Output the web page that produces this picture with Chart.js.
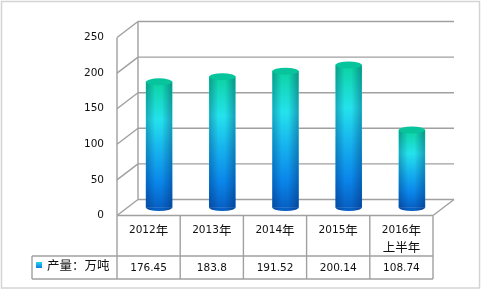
<!DOCTYPE html>
<html lang="zh">
<head>
<meta charset="UTF-8">
<title>产量</title>
<script src="https://cdn.jsdelivr.net/npm/chart.js"></script>
<style>
  html, body { margin: 0; padding: 0; background: #fff; }
</style>
</head>
<body>
<canvas id="c" width="482" height="290"></canvas>
<script>
// data
const categories = ['2012年', '2013年', '2014年', '2015年', '2016年上半年'];
const headerLines = [['2012年'], ['2013年'], ['2014年'], ['2015年'], ['2016年', '上半年']];
const output = [176.45, 183.8, 191.52, 200.14, 108.74];
const valueLabels = ['176.45', '183.8', '191.52', '200.14', '108.74'];
const seriesName = '产量：万吨';
const yMin = 0, yMax = 250, yStep = 50;

// 3d depth of the plot box
const DX = 21, DY = 16;
const FONT = "'DejaVu Sans', 'Noto Sans CJK SC', sans-serif";
const CJK_FONT = "12.5px 'Noto Sans CJK SC', sans-serif";
const LINE = '#a0a0a0';

function line(ctx, x1, y1, x2, y2) {
  ctx.beginPath();
  ctx.moveTo(x1, y1);
  ctx.lineTo(x2, y2);
  ctx.stroke();
}

// latin digits small, chinese a bit bigger, like the original
function mixedText(ctx, text, cx, cy) {
  const runs = text.match(/[\u3000-\u9fff\uff00-\uffef]+|[^\u3000-\u9fff\uff00-\uffef]+/g);
  const fonts = runs.map(r => /[\u3000-\u9fff\uff00-\uffef]/.test(r) ? CJK_FONT : '10.5px ' + FONT);
  let total = 0;
  const widths = runs.map((r, i) => { ctx.font = fonts[i]; const w = ctx.measureText(r).width; total += w; return w; });
  let px = cx - total / 2;
  ctx.textAlign = 'left';
  runs.forEach((r, i) => { ctx.font = fonts[i]; ctx.fillText(r, px, cy); px += widths[i]; });
}

function barFill(context) {
  const chart = context.chart;
  const { ctx, chartArea, scales } = chart;
  if (!chartArea) return '#1090e0';
  const top = scales.y.getPixelForValue(context.raw);
  const base = scales.y.getPixelForValue(0);
  const g = ctx.createLinearGradient(0, top, 0, base);
  g.addColorStop(0, '#0cd3a2');
  g.addColorStop(0.3, '#24e2ec');
  g.addColorStop(0.55, '#16b2ee');
  g.addColorStop(0.8, '#0a86ea');
  g.addColorStop(1, '#0760c4');
  return g;
}

const box3d = {
  id: 'box3d',
  beforeDatasetsDraw(chart) {
    const { ctx, chartArea: a, scales: { y } } = chart;
    ctx.save();
    ctx.strokeStyle = LINE;
    ctx.lineWidth = 1.4;
    y.ticks.forEach(t => {
      const py = y.getPixelForValue(t.value);
      line(ctx, a.left, py, a.left + DX, py - DY);
      line(ctx, a.left + DX, py - DY, a.right + DX, py - DY);
    });
    line(ctx, a.left, a.top, a.left, a.bottom);
    line(ctx, a.left + DX, a.top - DY, a.left + DX, a.bottom - DY);
    line(ctx, a.right, a.bottom, a.right + DX, a.bottom - DY);
    ctx.restore();
    // bars stand in the middle of the box depth
    ctx.save();
    ctx.translate(DX / 2, -DY / 2);
  },
  afterDatasetsDraw(chart) {
    const { ctx } = chart;
    const meta = chart.getDatasetMeta(0);
    meta.data.forEach(bar => {
      const w = bar.width, l = bar.x - w / 2, r = bar.x + w / 2;
      const ry = 3.5;
      // bottom rounding
      ctx.beginPath();
      ctx.ellipse(bar.x, bar.base, w / 2, ry, 0, 0, Math.PI);
      ctx.fillStyle = '#0760c4';
      ctx.fill();
      // side shading
      const h = ctx.createLinearGradient(l, 0, r, 0);
      h.addColorStop(0, 'rgba(0,20,70,0.28)');
      h.addColorStop(0.35, 'rgba(0,20,70,0)');
      h.addColorStop(0.6, 'rgba(0,20,70,0)');
      h.addColorStop(1, 'rgba(0,20,70,0.32)');
      ctx.fillStyle = h;
      ctx.fillRect(l, bar.y, w, bar.base - bar.y);
      ctx.beginPath();
      ctx.ellipse(bar.x, bar.base, w / 2, ry, 0, 0, Math.PI);
      ctx.fill();
      // top cap
      ctx.beginPath();
      ctx.ellipse(bar.x, bar.y, w / 2, ry, 0, 0, Math.PI * 2);
      ctx.fillStyle = '#08c49c';
      ctx.fill();
    });
    ctx.restore();
  },
  afterDraw(chart) {
    const { ctx, chartArea: a, scales: { x } } = chart;
    const step = x.getPixelForValue(1) - x.getPixelForValue(0);
    const rowTop = a.bottom, rowMid = 256, rowBot = 279, legLeft = 32;
    ctx.save();
    ctx.strokeStyle = LINE;
    ctx.lineWidth = 1.4;
    line(ctx, a.left, rowTop, a.right, rowTop);
    line(ctx, legLeft, rowMid, a.right, rowMid);
    line(ctx, legLeft, rowBot, a.right, rowBot);
    line(ctx, legLeft, rowMid, legLeft, rowBot);
    for (let i = 0; i <= categories.length; i++) {
      const px = x.getPixelForValue(0) - step / 2 + i * step;
      line(ctx, px, rowTop, px, rowBot);
    }
    ctx.fillStyle = '#111';
    ctx.textBaseline = 'middle';
    headerLines.forEach((lines, i) => {
      const px = x.getPixelForValue(i);
      lines.forEach((t, k) => mixedText(ctx, t, px, 230 + k * 17));
      ctx.font = '10.5px ' + FONT;
      ctx.textAlign = 'center';
      ctx.fillText(valueLabels[i], px, 268);
    });
    // legend key
    const g = ctx.createLinearGradient(0, 262, 0, 268);
    g.addColorStop(0, '#24d8ec');
    g.addColorStop(1, '#0a7ae0');
    ctx.fillStyle = g;
    ctx.fillRect(36, 262, 6, 6);
    ctx.fillStyle = '#111';
    ctx.textAlign = 'left';
    ctx.font = CJK_FONT;
    ctx.fillText(seriesName, 47, 265);
    // outer border
    ctx.strokeStyle = '#d4d4d4';
    ctx.lineWidth = 1.5;
    ctx.strokeRect(1.5, 1.5, 478, 286.5);
    ctx.restore();
  }
};

Chart.defaults.font.family = FONT;
Chart.defaults.font.size = 10.5;
Chart.defaults.color = '#111';

new Chart(document.getElementById('c'), {
  type: 'bar',
  data: {
    labels: categories,
    datasets: [{
      label: seriesName,
      data: output,
      backgroundColor: barFill,
      borderWidth: 0,
      barThickness: 26,
      clip: false
    }]
  },
  options: {
    responsive: false,
    animation: false,
    layout: { padding: { top: 37.5, right: 49, bottom: 74.5, left: 0 } },
    plugins: { legend: { display: false }, tooltip: { enabled: false } },
    scales: {
      x: { display: false },
      y: {
        min: yMin,
        max: yMax,
        ticks: { stepSize: yStep, padding: 13 },
        grid: { display: false, drawTicks: false },
        border: { display: false },
        afterFit(s) { s.width = 117; }
      }
    }
  },
  plugins: [box3d]
});
</script>
</body>
</html>
